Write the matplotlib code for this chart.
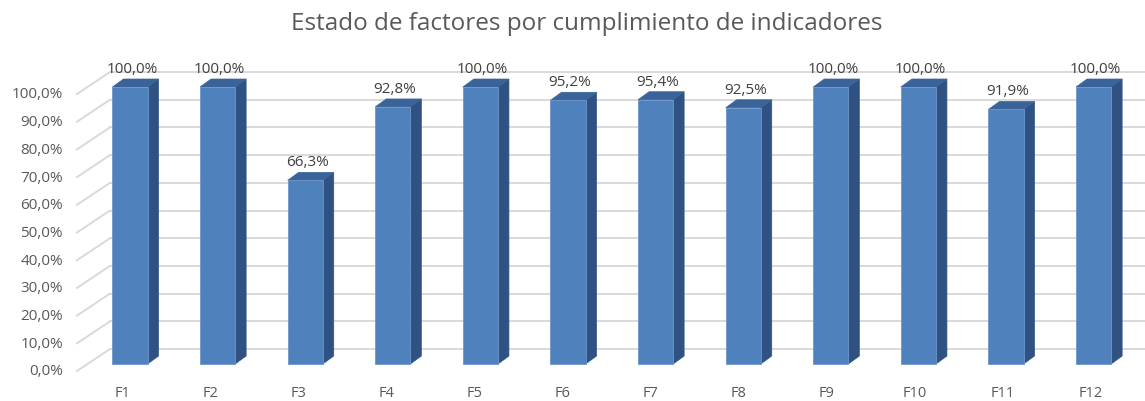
import matplotlib
matplotlib.use("Agg")
import matplotlib.pyplot as plt
from matplotlib.patches import Polygon

plt.rcParams['font.family'] = ['Open Sans', 'DejaVu Sans']

# Data
categories = ["F1", "F2", "F3", "F4", "F5", "F6", "F7", "F8", "F9", "F10", "F11", "F12"]
values = [100.0, 100.0, 66.3, 92.8, 100.0, 95.2, 95.4, 92.5, 100.0, 100.0, 91.9, 100.0]
grid_levels = [0, 10, 20, 30, 40, 50, 60, 70, 80, 90, 100]
title = "Estado de factores por cumplimiento de indicadores"

W, H = 1145, 402
fig = plt.figure(figsize=(W / 100, H / 100), dpi=100)
ax = fig.add_axes([0, 0, 1, 1])

# pixel scale of the front plane
px_x = 87.6          # px per category
px_y = 2.77          # px per percent
x0 = -130 / px_x
y0 = -37 / px_y
ax.set_xlim(x0, x0 + W / px_x)
ax.set_ylim(y0, y0 + H / px_y)
ax.axis("off")


def dx(p):
    return p / px_x


def dy(p):
    return p / px_y


grid_c = "#d9d9d9"
text_c = "#595959"

# back wall + side wall gridlines
wall_x = dx(110 - 130)
edge_x = dx(77 - 130)
for v in grid_levels:
    yb = v + dy(15)
    ax.plot([wall_x, x0 + W / px_x], [yb, yb], color=grid_c, lw=1.4, zorder=1)
    ax.plot([edge_x, wall_x], [v - dy(7), yb], color=grid_c, lw=1.4, zorder=1)
    lbl = f"{v:.1f}".replace(".", ",") + "%"
    ax.text(dx(63 - 130), v - dy(7), lbl, ha="right", va="center",
            fontsize=11, color=text_c)

# 3D-looking columns
front_c = "#4f81bd"
side_c = "#2f5282"
top_c = "#3a6499"
half = 0.2
ddx, ddy = dx(11), dy(8)
for i, (cat, v) in enumerate(zip(categories, values)):
    ax.bar(i, v, width=2 * half, color=front_c, edgecolor="#6d97cc",
           linewidth=0.6, zorder=4)
    side = Polygon([(i + half, 0), (i + half + ddx, ddy),
                    (i + half + ddx, v + ddy), (i + half, v)],
                   closed=True, facecolor=side_c, edgecolor=side_c, lw=0.5, zorder=3)
    top = Polygon([(i - half, v), (i + half, v), (i + half + ddx, v + ddy),
                   (i - half + ddx, v + ddy)],
                  closed=True, facecolor=top_c, edgecolor=top_c, lw=0.5, zorder=3)
    ax.add_patch(side)
    ax.add_patch(top)
    lbl = f"{v:.1f}".replace(".", ",") + "%"
    ax.text(i + dx(2), v + dy(11), lbl, ha="center", va="bottom",
            fontsize=11, color="#404040", zorder=5)
    ax.text(i + dx(-7 + 4 * i / 11), dy(-29), cat, ha="center", va="center",
            fontsize=10.5, color=text_c)

ax.text(dx(587 - 130), dy(402 - 37 - 24), title, ha="center", va="center",
        fontsize=17.5, color=text_c)

fig.savefig("out.png", dpi=100)
